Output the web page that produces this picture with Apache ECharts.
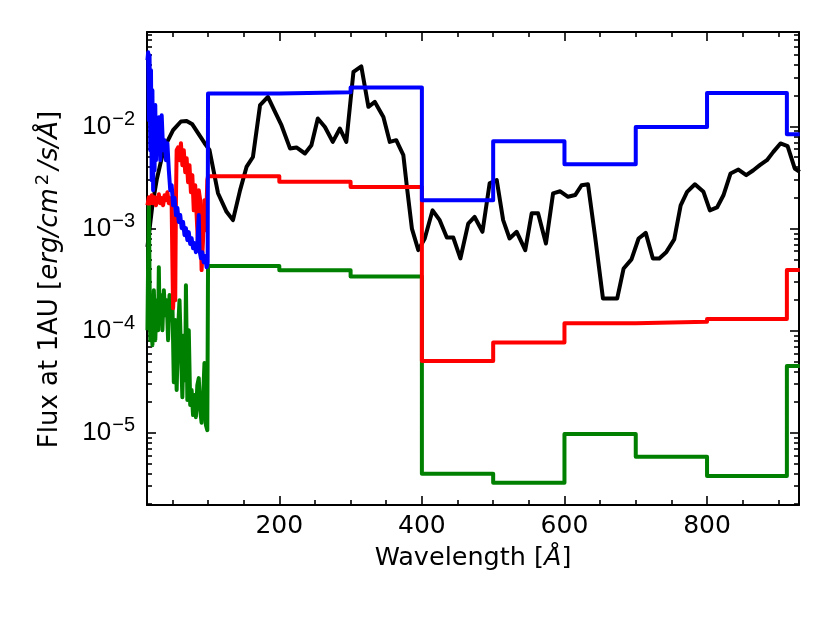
<!DOCTYPE html>
<html>
<head>
<meta charset="utf-8">
<script src="https://cdn.jsdelivr.net/npm/echarts@6/dist/echarts.min.js"></script>
<style>
  html, body { margin: 0; padding: 0; background: #fff; }
  #chart { width: 830px; height: 623px; }
</style>
</head>
<body>
<div id="chart"></div>
<script>
// ---- axis ranges & ticks ----
const xMin = 14.4, xMax = 929;
const yMin = 1.96e-6, yMax = 8.43e-2;
const xMajorTicks = [200, 400, 600, 800];
const xMinorTicks = [50, 100, 150, 250, 300, 350, 450, 500, 550, 650, 700, 750, 850, 900];
const yMajorTicks = [1e-5, 1e-4, 1e-3, 1e-2];
const yMinorTicks = [
  2e-6, 3e-6, 4e-6, 5e-6, 6e-6, 7e-6, 8e-6, 9e-6,
  2e-5, 3e-5, 4e-5, 5e-5, 6e-5, 7e-5, 8e-5, 9e-5,
  2e-4, 3e-4, 4e-4, 5e-4, 6e-4, 7e-4, 8e-4, 9e-4,
  2e-3, 3e-3, 4e-3, 5e-3, 6e-3, 7e-3, 8e-3, 9e-3,
  2e-2, 3e-2, 4e-2, 5e-2, 6e-2, 7e-2, 8e-2
];

// ---- binned (step) parts: bin edges and levels ----
const binEdges = [100, 200, 300, 400, 500, 600, 700, 800, 912, 930];
const blueSteps  = [2.10e-2, 2.17e-2, 2.41e-2, 1.90e-3, 7.18e-3, 4.27e-3, 9.9e-3, 2.13e-2, 8.4e-3];
const redSteps   = [3.26e-3, 2.87e-3, 2.56e-3, 5.04e-5, 7.67e-5, 1.18e-4, 1.22e-4, 1.30e-4, 3.92e-4];
const greenSteps = [4.3e-4, 3.9e-4, 3.4e-4, 3.97e-6, 3.24e-6, 9.7e-6, 5.82e-6, 3.77e-6, 4.5e-5];

// ---- high-resolution short-wavelength parts ----
const blueNoiseWave = [15,16,17,18,19,20,21,22,23,24,25,26,27,28,30,31,33,35,37,39,41,43,45,47,49,51,53,55,57,59,61,63,65,67,69,71,73,75,77,79,81,83,85,87,88,90,92,94,96,98,99.5];
const blueNoiseFlux = [4.46e-2,5.33e-2,1.15e-2,4.99e-2,5.86e-3,3.56e-2,2.98e-3,2.26e-2,2.38e-3,1.45e-2,3.73e-3,1.62e-2,4.68e-3,9.2e-3,5.86e-3,1.23e-2,4.68e-3,1.29e-2,5.86e-3,7.35e-3,4.68e-3,6.86e-3,3.73e-3,2.38e-3,2.66e-3,1.69e-3,1.99e-3,1.36e-3,1.59e-3,1.16e-3,1.36e-3,1.01e-3,1.16e-3,8.63e-4,1.01e-3,7.71e-4,9.23e-4,7.05e-4,8.05e-4,6.43e-4,7.2e-4,5.87e-4,6.89e-4,1.36e-3,6.15e-4,5.13e-4,5.87e-4,4.69e-4,5.37e-4,4.19e-4,4.6e-4];

const redNoiseWave = [15,17,19,21,23,25,27,29,31,33,35,37,39,41,43,45,47,49,50,51,52,53,54,55,56,58,60,62,64,66,68,70,72,74,76,78,80,82,84,86,87,89,91,93,95,97,99];
const redNoiseFlux = [1.69e-3,2.03e-3,1.77e-3,2.12e-3,1.77e-3,2.03e-3,1.69e-3,1.90e-3,2.17e-3,1.77e-3,1.99e-3,1.69e-3,2.12e-3,1.90e-3,2.27e-3,1.77e-3,1.99e-3,1.66e-3,4.91e-4,1.66e-4,2.49e-4,7.71e-4,1.99e-4,1.90e-3,5.86e-3,6.26e-3,4.68e-3,6.86e-3,4.18e-3,5.86e-3,3.57e-3,4.9e-3,2.85e-3,4.18e-3,2.27e-3,3.34e-3,1.51e-3,2.66e-3,1.36e-3,6.89e-4,2.38e-3,1.90e-3,3.92e-4,7.71e-4,1.9e-3,9.66e-4,2.98e-3];

const greenNoiseWave = [15,16,17,18,19,20,22,24,26,28,30,31,32,34,36,38,40,42,44,46,48,50,52,54,56,58,60,62,64,66,68,69,71,73,75,77,79,81,83,85,87,89,91,93,95,97,99];
const greenNoiseFlux = [1.01e-4,4.91e-4,1.90e-3,3.13e-4,8.07e-5,1.99e-4,7.21e-5,2.49e-4,8.07e-5,1.99e-4,1.01e-4,4.19e-4,1.27e-4,2.23e-4,1.01e-4,2.49e-4,1.42e-4,1.99e-4,8.07e-5,2.23e-4,1.27e-4,1.99e-4,3.13e-5,1.27e-4,2.62e-5,1.01e-4,1.99e-4,6.46e-5,2.23e-5,8.99e-5,3.27e-5,2.79e-4,2.09e-5,1.01e-4,1.87e-5,2.62e-5,1.49e-5,2.34e-5,1.42e-5,2.93e-5,3.43e-5,1.67e-5,1.25e-5,2.09e-5,4.81e-5,1.19e-5,1.06e-5];

// ---- black spectrum ----
const blackWave = [15,22,28,35,42,51,62,70,78,86,95,102,114,126,135,145,154,163,173,184,194,203,215,224,236,245,254,264,275,285,294,304,315,325,334,346,355,364,374,379,386,395,404,415,425,435,444,454,465,474,485,495,505,514,523,533,545,554,563,574,584,594,605,615,624,633,643,654,664,674,683,694,704,714,724,733,743,754,763,772,783,795,804,814,823,833,844,855,865,874,884,893,903,913,923,930];
const blackFlux = [6.6e-4,1.7e-3,3.0e-3,4.9e-3,6.9e-3,9.2e-3,1.12e-2,1.13e-2,1.05e-2,8.6e-3,6.9e-3,5.9e-3,2.22e-3,1.46e-3,1.21e-3,2.38e-3,4.02e-3,5.03e-3,1.62e-2,1.95e-2,1.39e-2,1.03e-2,6.1e-3,6.23e-3,5.44e-3,6.56e-3,1.2e-2,9.9e-3,7.07e-3,9.55e-3,7.07e-3,3.43e-2,3.89e-2,1.56e-2,1.74e-2,1.24e-2,7.07e-3,7.35e-3,5.24e-3,2.56e-3,1.0e-3,6.15e-4,8.0e-4,1.51e-3,1.21e-3,8.18e-4,8.18e-4,5.1e-4,1.12e-3,1.30e-3,9.3e-4,2.77e-3,2.98e-3,1.21e-3,8.0e-4,9.3e-4,6.15e-4,1.41e-3,1.41e-3,7.15e-4,2.21e-3,2.32e-3,2.05e-3,2.13e-3,2.66e-3,2.72e-3,8.3e-4,2.07e-4,2.07e-4,2.07e-4,4.07e-4,4.99e-4,8.0e-4,9.08e-4,5.1e-4,5.1e-4,5.91e-4,7.83e-4,1.69e-3,2.29e-3,2.72e-3,2.29e-3,1.51e-3,1.61e-3,2.12e-3,3.47e-3,3.79e-3,3.34e-3,3.73e-3,4.18e-3,4.68e-3,5.64e-3,6.82e-3,6.41e-3,3.88e-3,3.6e-3];

// ---- build series data ----
function zipXY(xs, ys) { return xs.map((x, i) => [x, ys[i]]); }
function buildStepped(noiseX, noiseY, levels) {
  const out = zipXY(noiseX, noiseY);
  for (let i = 0; i < levels.length; i++) {
    out.push([binEdges[i], levels[i]]);
    out.push([binEdges[i + 1], levels[i]]);
  }
  return out;
}

const FONT = 'DejaVu Sans';
const black = '#000';
const LW = 4;

function xAx(position, ticks, len, showLine, opts) {
  return Object.assign({
    type: 'value', position: position, min: xMin, max: xMax,
    axisLine: { show: showLine, onZero: false, lineStyle: { color: black, width: 2 } },
    axisTick: { show: true, inside: true, length: len, customValues: ticks, lineStyle: { color: black, width: 1.6 } },
    axisLabel: { show: false },
    splitLine: { show: false }
  }, opts || {});
}
function yAx(position, ticks, len, showLine, opts) {
  return Object.assign({
    type: 'log', logBase: 10, position: position, min: yMin, max: yMax,
    axisLine: { show: showLine, onZero: false, lineStyle: { color: black, width: 2 } },
    axisTick: { show: true, inside: true, length: len, customValues: ticks, lineStyle: { color: black, width: 1.6 } },
    axisLabel: { show: false },
    splitLine: { show: false }
  }, opts || {});
}

const chart = echarts.init(document.getElementById('chart'), null, { renderer: 'canvas' });
chart.setOption({
  backgroundColor: '#fff',
  animation: false,
  grid: { left: 147, right: 31, top: 32, bottom: 118, containLabel: false },
  xAxis: [
    xAx('bottom', xMajorTicks, 9, true, {
      axisLabel: {
        show: true, customValues: xMajorTicks, margin: 9,
        color: black, fontFamily: FONT, fontSize: 25
      },
      name: '{n|Wavelength [}{i|Å}{n|]}',
      nameLocation: 'middle', nameGap: 40,
      nameTextStyle: {
        rich: {
          n: { fontFamily: FONT, fontSize: 25.5, color: black },
          i: { fontFamily: FONT, fontSize: 25.5, fontStyle: 'italic', color: black }
        }
      }
    }),
    xAx('bottom', xMinorTicks, 5, false),
    xAx('top', xMajorTicks, 9, true),
    xAx('top', xMinorTicks, 5, false)
  ],
  yAxis: [
    yAx('left', yMajorTicks, 9, true, {
      axisLabel: {
        show: true, customValues: yMajorTicks, margin: 12,
        formatter: function (v) {
          const e = Math.round(Math.log10(v));
          return '{b|10}{s|\u2212' + Math.abs(e) + '}';
        },
        rich: {
          b: { fontFamily: 'Liberation Sans', fontSize: 26, color: black },
          s: { fontFamily: 'Liberation Sans', fontSize: 20, color: black, padding: [0, 0, 15, 1] }
        }
      },
      name: '{n|Flux at 1AU [}{i|erg/cm}{s|2}{i|/s/Å}{n|]}',
      nameLocation: 'middle', nameGap: 80, nameRotate: 90,
      nameTextStyle: {
        padding: [0, 22, 0, 0],
        rich: {
          n: { fontFamily: FONT, fontSize: 26, color: black },
          i: { fontFamily: FONT, fontSize: 26, fontStyle: 'italic', color: black },
          s: { fontFamily: FONT, fontSize: 18, color: black, padding: [0, 4, 15, 3] }
        }
      }
    }),
    yAx('left', yMinorTicks, 5, false),
    yAx('right', yMajorTicks, 9, true),
    yAx('right', yMinorTicks, 5, false)
  ],
  series: [
    {
      name: 'black', type: 'line', xAxisIndex: 0, yAxisIndex: 0,
      data: zipXY(blackWave, blackFlux), showSymbol: false, clip: true,
      lineStyle: { color: '#000000', width: LW, join: 'round' }, z: 2
    },
    {
      name: 'green', type: 'line', xAxisIndex: 0, yAxisIndex: 0,
      data: buildStepped(greenNoiseWave, greenNoiseFlux, greenSteps), showSymbol: false, clip: true,
      lineStyle: { color: '#008000', width: LW, join: 'round' }, z: 3
    },
    {
      name: 'red', type: 'line', xAxisIndex: 0, yAxisIndex: 0,
      data: buildStepped(redNoiseWave, redNoiseFlux, redSteps), showSymbol: false, clip: true,
      lineStyle: { color: '#ff0000', width: LW, join: 'round' }, z: 4
    },
    {
      name: 'blue', type: 'line', xAxisIndex: 0, yAxisIndex: 0,
      data: buildStepped(blueNoiseWave, blueNoiseFlux, blueSteps), showSymbol: false, clip: true,
      lineStyle: { color: '#0000ff', width: LW, join: 'round' }, z: 5
    }
  ]
});
</script>
</body>
</html>
